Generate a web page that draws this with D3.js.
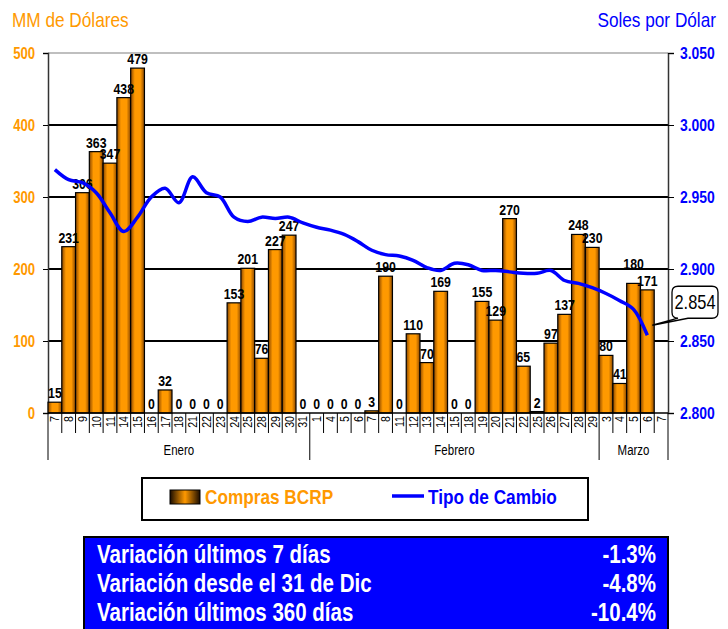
<!DOCTYPE html>
<html>
<head>
<meta charset="utf-8">
<script src="https://cdn.jsdelivr.net/npm/d3@7"></script>
<style>
  html, body { margin: 0; padding: 0; background: #fff; }
  svg { display: block; }
  text { font-family: "Liberation Sans", Arial, sans-serif; }
</style>
</head>
<body>
<svg id="chart" width="728" height="629"></svg>
<script>
// ---------------- DATA ----------------
const dayLabels = ["7","8","9","10","11","14","15","16","17","18","21","22","23","24","25","28","29","30","31",
  "1","4","5","6","7","8","11","12","13","14","15","18","19","20","21","22","25","26","27","28","29",
  "3","4","5","6","7"];
const monthNames = ["Enero","Febrero","Marzo"];
const monthOfDay = [0,0,0,0,0,0,0,0,0,0,0,0,0,0,0,0,0,0,0,
  1,1,1,1,1,1,1,1,1,1,1,1,1,1,1,1,1,1,1,1,1,
  2,2,2,2,2];
const compras = [15,231,306,363,347,438,479,0,32,0,0,0,0,153,201,76,227,247,0,
  0,0,0,0,3,190,0,110,70,169,0,0,155,129,270,65,2,97,137,248,230,
  80,41,180,171,null];
const tipoCambio = [2.969,2.962,2.960,2.953,2.939,2.926,2.936,2.950,2.956,2.946,2.964,2.953,2.950,2.936,2.933,2.936,2.935,2.936,2.932,
  2.929,2.927,2.924,2.919,2.913,2.910,2.909,2.906,2.901,2.899,2.904,2.903,2.899,2.899,2.898,2.897,2.897,2.899,2.892,2.890,2.887,
  2.883,2.878,2.872,2.854,null];
const leftTicks = [0,100,200,300,400,500];
const rightTicks = [2.800,2.850,2.900,2.950,3.000,3.050];
const tableRows = ["Variación últimos 7 días","Variación desde el 31 de Dic","Variación últimos 360 días"];
const tableValues = ["-1.3%","-4.8%","-10.4%"];
const legendLabels = ["Compras BCRP","Tipo de Cambio"];

// ---------------- LAYOUT ----------------
const ORANGE = "#FF9900", BLUE = "#0000FF";
const L = 48, R = 668, T = 53, B = 413;
const SX = 0.82; // narrow-font emulation
const svg = d3.select("#chart");

function ntext(parent, x, y, str, o = {}) {
  const rot = o.rotate ? ` rotate(${o.rotate})` : "";
  return parent.append("text")
    .attr("transform", `translate(${x},${y})${rot} scale(${SX},1)`)
    .attr("text-anchor", o.anchor || "start")
    .attr("font-size", o.size || 14)
    .attr("font-weight", o.weight || "normal")
    .attr("fill", o.fill || "#000")
    .text(str);
}

const x = d3.scaleBand().domain(d3.range(dayLabels.length)).range([L, R]).padding(0);
const yL = d3.scaleLinear().domain([0, 500]).range([B, T]);
const yR = d3.scaleLinear().domain([2.8, 3.05]).range([B, T]);

// gradients
const defs = svg.append("defs");
const grad = defs.append("linearGradient").attr("id", "barGrad").attr("x1", "0").attr("x2", "1").attr("y1", "0").attr("y2", "0");
[[0, "#8a4700"], [0.3, ORANGE], [0.7, ORANGE], [1, "#8a4700"]].forEach(([o, c]) =>
  grad.append("stop").attr("offset", o).attr("stop-color", c));
const grad2 = defs.append("linearGradient").attr("id", "legGrad").attr("x1", "0").attr("x2", "1").attr("y1", "0").attr("y2", "0");
[[0, "#1a0c00"], [0.5, ORANGE], [1, "#1a0c00"]].forEach(([o, c]) =>
  grad2.append("stop").attr("offset", o).attr("stop-color", c));

// axis titles
ntext(svg, 12, 27, "MM de Dólares", { size: 21, fill: ORANGE });
ntext(svg, 716, 27, "Soles por Dólar", { size: 21, fill: BLUE, anchor: "end" });

// gridlines
svg.append("g").selectAll("line").data(leftTicks.filter(d => d > 0 && d < 500)).join("line")
  .attr("x1", L).attr("x2", R).attr("y1", d => yL(d)).attr("y2", d => yL(d))
  .attr("stroke", "#000").attr("stroke-width", 1.3).attr("shape-rendering", "crispEdges");
svg.append("line").attr("x1", L).attr("x2", R).attr("y1", yL(500)).attr("y2", yL(500))
  .attr("stroke", "#aaa").attr("stroke-width", 1.5);

// left axis
const gL = svg.append("g").attr("transform", `translate(${L},0)`)
  .call(d3.axisLeft(yL).tickValues(leftTicks).tickSize(5).tickPadding(7).tickFormat(d3.format("d")));
gL.select(".domain").attr("stroke", "#333").attr("stroke-width", 1.5);
gL.selectAll(".tick line").attr("stroke", "#000");
gL.selectAll("text").attr("fill", ORANGE).attr("font-weight", "bold").attr("font-size", 16)
  .attr("x", -13 / SX).attr("transform", `scale(${SX},1)`);

// right axis
const gR = svg.append("g").attr("transform", `translate(${R},0)`)
  .call(d3.axisRight(yR).tickValues(rightTicks).tickSize(6).tickPadding(7).tickFormat(d3.format(".3f")));
gR.select(".domain").attr("stroke", "#333").attr("stroke-width", 1.5);
gR.selectAll(".tick line").attr("stroke", "#000");
gR.selectAll("text").attr("fill", BLUE).attr("font-weight", "bold").attr("font-size", 17)
  .attr("x", 12 / SX).attr("transform", `scale(${SX},1)`);

// bars
const barData = compras.map((v, i) => ({ i, v })).filter(d => d.v !== null);
svg.append("g").selectAll("rect").data(barData).join("rect")
  .attr("x", d => x(d.i)).attr("width", x.bandwidth())
  .attr("y", d => yL(d.v)).attr("height", d => B - yL(d.v))
  .attr("fill", "url(#barGrad)").attr("stroke", "#000").attr("stroke-width", 1.2);

// bar labels (lift a label when it would collide with the next, taller-neighbour style)
const labelY = barData.map(d => yL(d.v) - 4);
for (let k = 0; k < barData.length - 1; k++) {
  const a = labelY[k], b = labelY[k + 1];
  const bothTall = barData[k].v >= 100 && barData[k + 1].v >= 100;
  if (bothTall && Math.abs(a - b) < 11) {
    if (a <= b) labelY[k] = b - 17; else labelY[k + 1] = a - 17;
  }
}
const gLab = svg.append("g");
barData.forEach((d, k) => ntext(gLab, x(d.i) + x.bandwidth() / 2, labelY[k], d.v,
  { size: 15, weight: "bold", anchor: "middle" }));

// x axis line
svg.append("line").attr("x1", L).attr("x2", R).attr("y1", B).attr("y2", B).attr("stroke", "#000").attr("stroke-width", 1.5);

// category ticks
const bounds = d3.range(dayLabels.length + 1);
const isMonthBound = k => k === 0 || k === dayLabels.length || monthOfDay[k] !== monthOfDay[k - 1];
svg.append("g").selectAll("line").data(bounds).join("line")
  .attr("x1", k => L + k * x.step()).attr("x2", k => L + k * x.step())
  .attr("y1", B).attr("y2", k => isMonthBound(k) ? 460 : 433)
  .attr("stroke", "#000").attr("stroke-width", 1);

// day labels
const gDays = svg.append("g");
dayLabels.forEach((d, i) => ntext(gDays, x(i) + x.bandwidth() / 2 + 4.5, B + 3, d,
  { size: 13, anchor: "end", rotate: -90 }));

// month labels
monthNames.forEach((m, mi) => {
  const idx = monthOfDay.map((v, i) => v === mi ? i : -1).filter(i => i >= 0);
  const x0 = x(idx[0]), x1 = x(idx[idx.length - 1]) + x.bandwidth();
  ntext(svg, (x0 + x1) / 2, 455, m, { size: 14, anchor: "middle" });
});

// line
const lineData = tipoCambio.map((v, i) => ({ i, v })).filter(d => d.v !== null);
const line = d3.line().x(d => x(d.i) + x.bandwidth() / 2).y(d => yR(d.v)).curve(d3.curveCatmullRom.alpha(0.5));
svg.append("path").datum(lineData).attr("d", line).attr("fill", "none")
  .attr("stroke", BLUE).attr("stroke-width", 3.5).attr("stroke-linejoin", "round");

// callout
const last = lineData[lineData.length - 1];
const px = x(last.i) + x.bandwidth() / 2, py = yR(last.v);
const tipX = px + 5, tipY = py - 10;
const bx0 = R + 4, bx1 = bx0 + 46, by1 = tipY - 7, by0 = by1 - 32, r = 6;
const cp = d3.path();
cp.moveTo(bx0 + r, by0);
cp.lineTo(bx1 - r, by0); cp.quadraticCurveTo(bx1, by0, bx1, by0 + r);
cp.lineTo(bx1, by1 - r); cp.quadraticCurveTo(bx1, by1, bx1 - r, by1);
cp.lineTo(bx0 + 16, by1); cp.lineTo(tipX, tipY); cp.lineTo(bx0 + 6, by1);
cp.lineTo(bx0 + r, by1); cp.quadraticCurveTo(bx0, by1, bx0, by1 - r);
cp.lineTo(bx0, by0 + r); cp.quadraticCurveTo(bx0, by0, bx0 + r, by0);
cp.closePath();
svg.append("path").attr("d", cp.toString()).attr("fill", "#fff").attr("stroke", "#000").attr("stroke-width", 1.3);
ntext(svg, (bx0 + bx1) / 2, by1 - 9, d3.format(".3f")(last.v), { size: 20, anchor: "middle" });

// legend
const lg = svg.append("g");
lg.append("rect").attr("x", 142).attr("y", 478).attr("width", 446).attr("height", 42)
  .attr("fill", "#fff").attr("stroke", "#000").attr("stroke-width", 2);
lg.append("rect").attr("x", 170).attr("y", 490).attr("width", 30).attr("height", 14)
  .attr("fill", "url(#legGrad)").attr("stroke", "#000").attr("stroke-width", 1);
ntext(lg, 205, 504, legendLabels[0], { size: 21, weight: "bold", fill: ORANGE });
lg.append("line").attr("x1", 392).attr("x2", 424).attr("y1", 496).attr("y2", 496)
  .attr("stroke", BLUE).attr("stroke-width", 3.5);
ntext(lg, 428, 504, legendLabels[1], { size: 21, weight: "bold", fill: BLUE });

// table
const tg = svg.append("g");
tg.append("rect").attr("x", 84).attr("y", 537).attr("width", 584).attr("height", 100)
  .attr("fill", BLUE).attr("stroke", "#000").attr("stroke-width", 2);
tableRows.forEach((t, i) => {
  ntext(tg, 97, 563 + i * 29, t, { size: 25, weight: "bold", fill: "#fff" });
  ntext(tg, 656, 563 + i * 29, tableValues[i], { size: 25, weight: "bold", fill: "#fff", anchor: "end" });
});
</script>
</body>
</html>
